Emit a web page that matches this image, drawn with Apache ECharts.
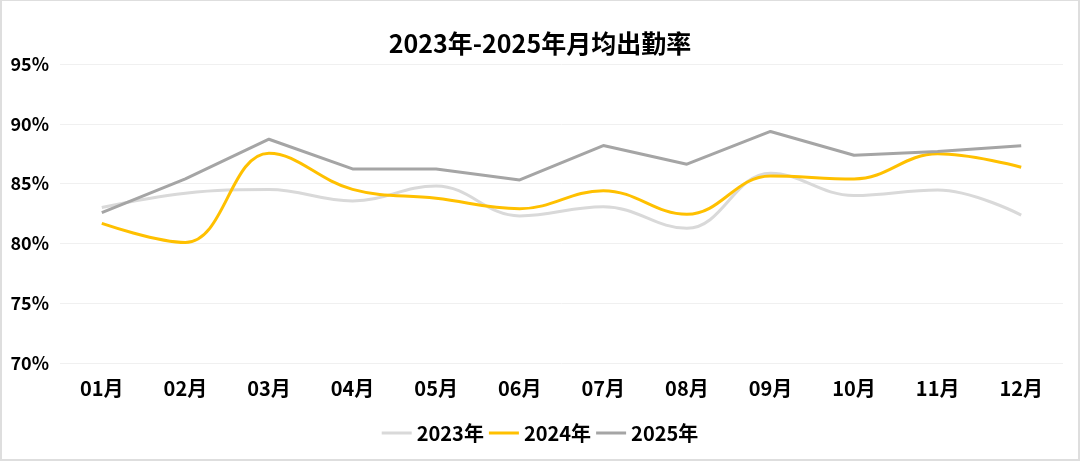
<!DOCTYPE html>
<html><head><meta charset="utf-8">
<script src="https://cdn.jsdelivr.net/npm/echarts@6/dist/echarts.min.js"></script>
<style>
html,body{margin:0;padding:0;background:#fff;}
#wrap{width:1080px;height:461px;box-sizing:border-box;border:2px solid #dedede;border-top-width:1px;border-right-width:2px;}
#c{width:1076px;height:458px;}
</style></head>
<body><div id="wrap"><div id="c"></div></div>
<script>
const categories = ['01月','02月','03月','04月','05月','06月','07月','08月','09月','10月','11月','12月'];
const s2023 = [83.0, 84.2, 84.5, 83.55, 84.8, 82.3, 83.07, 81.26, 85.87, 84.0, 84.47, 82.37];
const s2024 = [81.67, 80.08, 87.54, 84.52, 83.77, 82.9, 84.41, 82.43, 85.64, 85.39, 87.49, 86.37];
const s2025 = [82.57, 85.39, 88.71, 86.23, 86.23, 85.31, 88.18, 86.62, 89.36, 87.37, 87.68, 88.16];
const seriesNames = ['2023年','2024年','2025年'];
const titleText = '2023年-2025年月均出勤率';

const FONT = '"Noto Sans CJK SC", "Noto Sans", sans-serif';
const chart = echarts.init(document.getElementById('c'), null, {renderer:'canvas'});
chart.setOption({
  animation:false,
  textStyle:{fontFamily:FONT},
  title:{text:titleText,left:'center',top:25,textStyle:{fontFamily:FONT,fontSize:25,fontWeight:'bold',color:'#000'}},
  legend:{data:seriesNames,bottom:11,left:'center',itemWidth:30,itemHeight:3,itemGap:5,
    icon:'rect',textStyle:{fontFamily:FONT,fontSize:20,fontWeight:'bold',color:'#000'}},
  grid:{left:58,right:15,top:63,bottom:96},
  xAxis:{type:'category',data:categories,boundaryGap:true,
    axisLine:{show:false},axisTick:{show:false},
    axisLabel:{fontFamily:FONT,fontSize:20,fontWeight:'bold',color:'#000',margin:15}},
  yAxis:{type:'value',min:70,max:95,interval:5,
    axisLabel:{formatter:'{value}%',fontFamily:FONT,fontSize:18,fontWeight:'bold',color:'#000',margin:11},
    axisLine:{show:false},axisTick:{show:false},
    splitLine:{lineStyle:{color:'#f0f0f0',width:1}}},
  series:[
    {name:seriesNames[0],type:'line',data:s2023,smooth:0.4,symbol:'none',lineStyle:{color:'#D9D9D9',width:3},itemStyle:{color:'#D9D9D9'}},
    {name:seriesNames[1],type:'line',data:s2024,smooth:0.4,symbol:'none',lineStyle:{color:'#FFC000',width:3},itemStyle:{color:'#FFC000'}},
    {name:seriesNames[2],type:'line',data:s2025,smooth:false,symbol:'none',lineStyle:{color:'#A5A5A5',width:3},itemStyle:{color:'#A5A5A5'}}
  ]
});
</script></body></html>
